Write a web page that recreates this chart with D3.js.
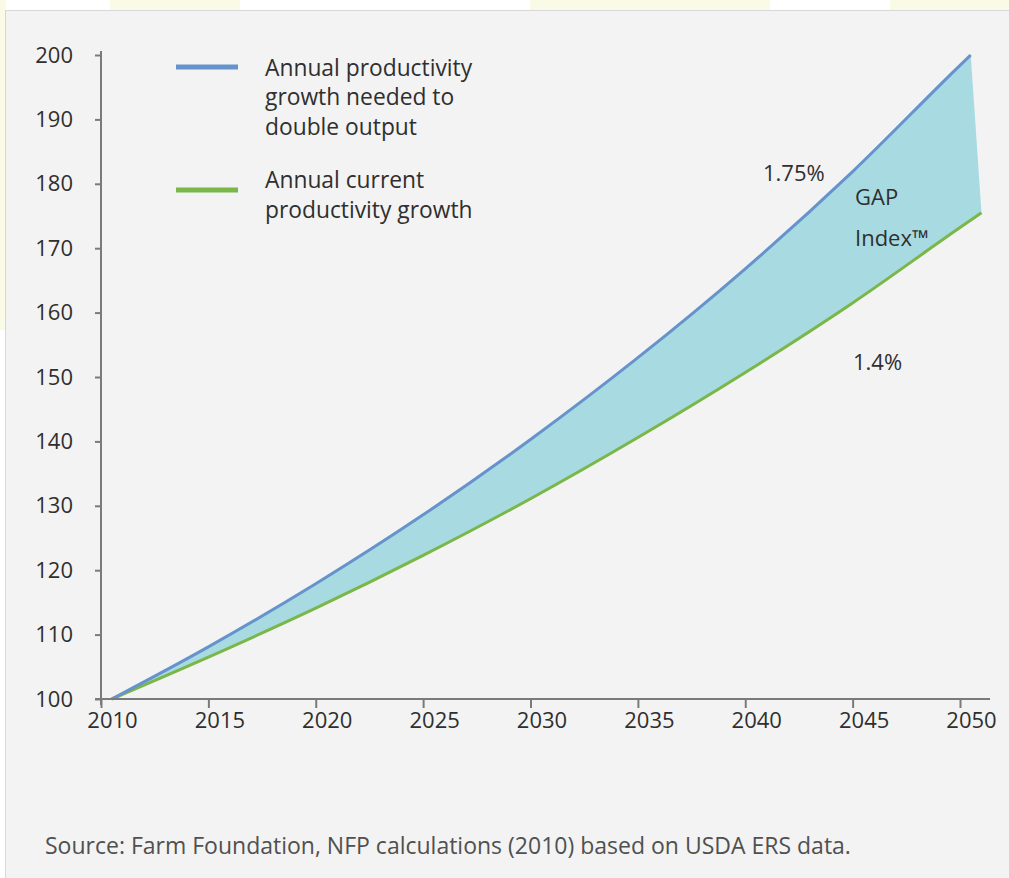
<!DOCTYPE html>
<html><head><meta charset="utf-8">
<script src="https://cdn.jsdelivr.net/npm/d3@7"></script>
<style>
html,body{margin:0;padding:0;background:#fff;}
svg{display:block;}
text{font-family:"Open Sans","Noto Sans",sans-serif;fill:#2f2f2f;}
</style></head>
<body>
<svg id="chart" width="1009" height="878"></svg>
<script>
// Data
const blueYears  = [2010.5, 2015, 2020, 2025, 2030, 2035, 2040, 2045, 2050, 2050.5];
const blueValues = [100, 108.1, 117.9, 128.6, 140.3, 153.0, 166.8, 181.9, 198.4, 200];
const greenYears  = [2010.5, 2015, 2020, 2025, 2030, 2035, 2040, 2045, 2050, 2051];
const greenValues = [100, 106.5, 114.1, 122.3, 131.1, 140.6, 150.7, 161.5, 173.2, 175.5];
const xTickLabels = [2010, 2015, 2020, 2025, 2030, 2035, 2040, 2045, 2050];
const yTickLabels = [100, 110, 120, 130, 140, 150, 160, 170, 180, 190, 200];
const legendLabels = [["Annual productivity", "growth needed to", "double output"], ["Annual current", "productivity growth"]];
const seriesColors = ["#6793cc", "#7ab648"];
const gapColor = "#a7dbe1";

const svg = d3.select("#chart");

// faint background decoration and panel
svg.append("rect").attr("x",0).attr("y",0).attr("width",1009).attr("height",878).attr("fill","#ffffff");
[[110,0,130,12],[530,0,240,12],[890,0,119,12],[0,0,6,330]].forEach(r=>{
  svg.append("rect").attr("x",r[0]).attr("y",r[1]).attr("width",r[2]).attr("height",r[3]).attr("fill","#fafbe6");
});
svg.append("rect").attr("x",5.5).attr("y",10.5).attr("width",1010).attr("height",870)
  .attr("fill","#f3f3f3").attr("stroke","#d8d8d8").attr("stroke-width",1);

const x = d3.scaleLinear().domain([2010, 2050]).range([101, 960]);
const y = d3.scaleLinear().domain([100, 200]).range([699, 55]);

const blue = blueYears.map((d,i)=>[d, blueValues[i]]);
const green = greenYears.map((d,i)=>[d, greenValues[i]]);

const line = d3.line().x(d=>x(d[0])).y(d=>y(d[1])).curve(d3.curveMonotoneX);

// gap area: blue forward, green backward
const gapPath = line(blue) + "L" + line(green.slice().reverse()).slice(1) + "Z";
svg.append("path").attr("d", gapPath).attr("fill", gapColor).attr("stroke","none");

svg.append("path").attr("d", line(green)).attr("fill","none").attr("stroke",seriesColors[1]).attr("stroke-width",3);
svg.append("path").attr("d", line(blue)).attr("fill","none").attr("stroke",seriesColors[0]).attr("stroke-width",3);

// axes
const axisColor = "#7a7a7a";
const fs = "22px";
const yAxis = svg.append("g").attr("transform","translate(101,0)")
  .call(d3.axisLeft(y).tickValues(yTickLabels).tickSize(6).tickPadding(22).tickFormat(d3.format("d")));
const xAxis = svg.append("g").attr("transform","translate(0,699)")
  .call(d3.axisBottom(x).tickValues(xTickLabels).tickSize(9).tickPadding(4).tickFormat(d3.format("d")));
[yAxis, xAxis].forEach(g=>{
  g.select(".domain").remove();
  g.selectAll("line").attr("stroke",axisColor).attr("stroke-width",2);
  g.selectAll("text").attr("fill","#2f2f2f").style("font-size",fs).attr("font-family",'"Open Sans",sans-serif');
});
xAxis.selectAll("text").attr("dx", 11);
svg.append("line").attr("x1",101).attr("x2",101).attr("y1",51).attr("y2",705).attr("stroke",axisColor).attr("stroke-width",2);
svg.append("line").attr("x1",95).attr("x2",990).attr("y1",699).attr("y2",699).attr("stroke",axisColor).attr("stroke-width",2);

// legend
const legY = [67, 190];
const legText = [[68,97,127],[180,210]];
legendLabels.forEach((lines,i)=>{
  svg.append("line").attr("x1",176).attr("x2",238).attr("y1",legY[i]).attr("y2",legY[i])
    .attr("stroke",seriesColors[i]).attr("stroke-width",5);
  lines.forEach((t,j)=>{
    svg.append("text").attr("x",265).attr("y",legText[i][j]).attr("dy","0.35em")
      .style("font-size","22.8px").text(t);
  });
});

// annotations
const ann = [["1.75%",763,173],["GAP",855,197],["Index™",855,238],["1.4%",853,362]];
ann.forEach(a=>{
  svg.append("text").attr("x",a[1]).attr("y",a[2]).attr("dy","0.35em").style("font-size",fs).text(a[0]);
});

svg.append("text").attr("x",45).attr("y",846).attr("dy","0.35em").style("font-size","23px")
  .style("fill","#505050").text("Source: Farm Foundation, NFP calculations (2010) based on USDA ERS data.");
</script>
</body></html>
